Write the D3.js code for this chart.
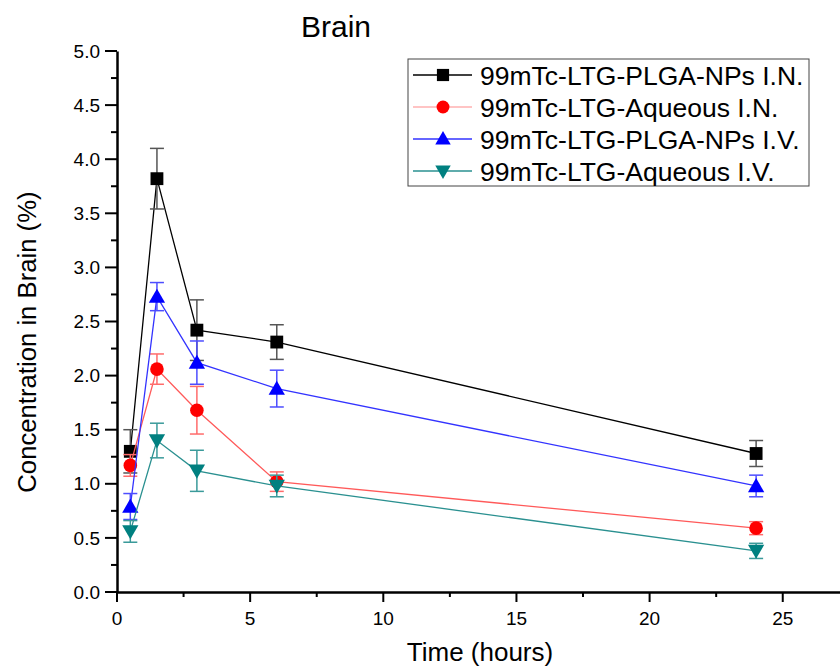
<!DOCTYPE html>
<html lang="en">
<head>
<meta charset="UTF-8" />
<title>Brain</title>
<style>
  html, body { margin: 0; padding: 0; background: #fff; }
  svg { font-family: "Liberation Sans", Arial, sans-serif; display: block; }
</style>
</head>
<body>
<svg width="840" height="667"></svg>
<script src="https://d3js.org/d3.v7.min.js"></script>
<script>
// data
const times = [0.5, 1.5, 3, 6, 24];
const seriesNames = [
  "99mTc-LTG-PLGA-NPs I.N.",
  "99mTc-LTG-Aqueous I.N.",
  "99mTc-LTG-PLGA-NPs I.V.",
  "99mTc-LTG-Aqueous I.V."
];
const plgaIN = [1.30, 3.82, 2.42, 2.31, 1.28];
const plgaINErr = [0.20, 0.28, 0.28, 0.16, 0.12];
const aqIN = [1.17, 2.06, 1.68, 1.02, 0.59];
const aqINErr = [0.10, 0.14, 0.22, 0.09, 0.06];
const plgaIV = [0.79, 2.73, 2.12, 1.88, 0.98];
const plgaIVErr = [0.12, 0.13, 0.20, 0.17, 0.10];
const aqIV = [0.56, 1.40, 1.12, 0.98, 0.38];
const aqIVErr = [0.10, 0.16, 0.19, 0.10, 0.07];

const xTicks = [0, 5, 10, 15, 20, 25];
const yTicks = [0, 0.5, 1, 1.5, 2, 2.5, 3, 3.5, 4, 4.5, 5];

const styles = [
  { line: "#000", err: "#555", fill: "#000", symbol: d3.symbolSquare, size: 165, rot: 0 },
  { line: "#ff5a5a", err: "#ff6b6b", fill: "#ff0000", symbol: d3.symbolCircle, size: 145, rot: 0 },
  { line: "#3333ff", err: "#4d4dff", fill: "#0000ff", symbol: d3.symbolTriangle, size: 115, rot: 0 },
  { line: "#2a9090", err: "#3a9a9a", fill: "#008080", symbol: d3.symbolTriangle, size: 115, rot: 180 }
];
const values = [plgaIN, aqIN, plgaIV, aqIV];
const errors = [plgaINErr, aqINErr, plgaIVErr, aqIVErr];

const svg = d3.select("svg");
const x = d3.scaleLinear().domain([0, 27.15]).range([117, 840]);
const y = d3.scaleLinear().domain([0, 5]).range([592, 51]);

// axes
const xAxis = svg.append("g").attr("transform", `translate(0,${y(0)})`);
xAxis.call(d3.axisBottom(x).tickValues([]).tickSize(0));
xAxis.select(".domain").attr("stroke-width", 2.5);
xAxis.selectAll(".minor").data(d3.range(0, 27.5, 2.5)).join("line")
  .attr("x1", d => x(d)).attr("x2", d => x(d))
  .attr("y1", 0).attr("y2", d => d % 5 === 0 ? 10 : 5)
  .attr("stroke", "#000").attr("stroke-width", 2);
xAxis.selectAll(".lbl").data(xTicks).join("text")
  .attr("x", d => x(d)).attr("y", 33)
  .attr("text-anchor", "middle").attr("font-size", 19).attr("fill", "#000")
  .text(d => d);

const yAxis = svg.append("g").attr("transform", `translate(${x(0)},0)`);
yAxis.call(d3.axisLeft(y).tickValues([]).tickSize(0));
yAxis.select(".domain").attr("stroke-width", 2.5);
yAxis.selectAll(".minor").data(d3.range(0, 5.01, 0.25)).join("line")
  .attr("y1", d => y(d)).attr("y2", d => y(d))
  .attr("x1", 0).attr("x2", (d, i) => i % 2 === 0 ? -12 : -6)
  .attr("stroke", "#000").attr("stroke-width", 2);
yAxis.selectAll(".lbl").data(yTicks).join("text")
  .attr("x", -17).attr("y", d => y(d)).attr("dy", "0.35em")
  .attr("text-anchor", "end").attr("font-size", 19).attr("fill", "#000")
  .text(d => d.toFixed(1));

// titles
svg.append("text").attr("x", 336).attr("y", 37).attr("text-anchor", "middle")
  .attr("font-size", 30).text("Brain");
svg.append("text").attr("x", 480).attr("y", 661).attr("text-anchor", "middle")
  .attr("font-size", 26).text("Time (hours)");
svg.append("text").attr("transform", `translate(36,${y(2.31)}) rotate(-90)`)
  .attr("text-anchor", "middle").attr("font-size", 25.7).text("Concentration in Brain (%)");

// series
const line = d3.line().x((d, i) => x(times[i])).y(d => y(d));
values.forEach((vals, s) => {
  const st = styles[s];
  const g = svg.append("g");
  g.append("path").datum(vals).attr("d", line)
    .attr("fill", "none").attr("stroke", st.line).attr("stroke-width", 1.3);
  const eb = g.selectAll(".err").data(vals).join("g")
    .attr("stroke", st.err).attr("stroke-width", 1.5);
  eb.append("line")
    .attr("x1", (d, i) => x(times[i])).attr("x2", (d, i) => x(times[i]))
    .attr("y1", (d, i) => y(d + errors[s][i])).attr("y2", (d, i) => y(d - errors[s][i]));
  eb.append("line")
    .attr("x1", (d, i) => x(times[i]) - 7).attr("x2", (d, i) => x(times[i]) + 7)
    .attr("y1", (d, i) => y(d + errors[s][i])).attr("y2", (d, i) => y(d + errors[s][i]));
  eb.append("line")
    .attr("x1", (d, i) => x(times[i]) - 7).attr("x2", (d, i) => x(times[i]) + 7)
    .attr("y1", (d, i) => y(d - errors[s][i])).attr("y2", (d, i) => y(d - errors[s][i]));
  g.selectAll(".pt").data(vals).join("path")
    .attr("d", d3.symbol().type(st.symbol).size(st.size))
    .attr("transform", (d, i) => `translate(${x(times[i])},${y(d) + (st.symbol === d3.symbolTriangle ? (st.rot ? -1.5 : 1.5) : 0)}) rotate(${st.rot})`)
    .attr("fill", st.fill);
});

// legend
const lg = svg.append("g").attr("transform", "translate(408,59)");
lg.append("rect").attr("width", 401).attr("height", 127)
  .attr("fill", "#fff").attr("stroke", "#444").attr("stroke-width", 1);
seriesNames.forEach((name, s) => {
  const st = styles[s];
  const yy = 16 + s * 32;
  const row = lg.append("g").attr("transform", `translate(0,${yy})`);
  row.append("line").attr("x1", 5).attr("x2", 64).attr("stroke", s === 1 ? "#ffb0b0" : st.line).attr("stroke-width", 1.3);
  row.append("path").attr("d", d3.symbol().type(st.symbol).size(st.size * 0.9))
    .attr("transform", `translate(35,${st.symbol === d3.symbolTriangle ? (st.rot ? -1 : 1) : 0}) rotate(${st.rot})`)
    .attr("fill", st.fill);
  row.append("text").attr("x", 72).attr("dy", "0.36em").attr("font-size", 26.5).text(name);
});
</script>
</body>
</html>
